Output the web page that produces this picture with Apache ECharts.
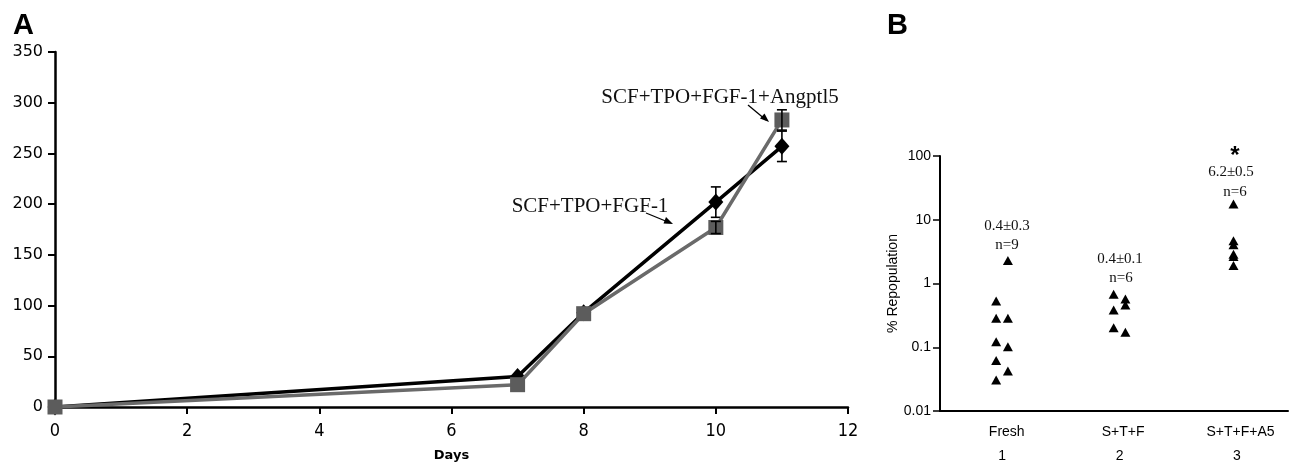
<!DOCTYPE html>
<html><head><meta charset="utf-8">
<script src="https://cdn.jsdelivr.net/npm/echarts@6/dist/echarts.min.js"></script>
<style>html,body{margin:0;padding:0;background:#fff}#c{width:1289px;height:465px}</style>
</head><body><div id="c"></div>
<script>
// ---- Panel A data ----
const days = [0, 7, 8, 10, 11];
const stfValues = [0, 30, 93, 202, 257];      // SCF+TPO+FGF-1
const stfErrors = [0, 0, 0, 15, 15];
const stfaValues = [0, 22, 92, 177, 283];     // SCF+TPO+FGF-1+Angptl5
const stfaErrors = [0, 0, 0, 6, 10];
const seriesNamesA = ['SCF+TPO+FGF-1', 'SCF+TPO+FGF-1+Angptl5'];

// ---- Panel B data ----
const groupNames = ['Fresh', 'S+T+F', 'S+T+F+A5'];
const groupNumbers = ['1', '2', '3'];
const freshLeft = [0.53, 0.285, 0.122, 0.062, 0.0307];
const freshRight = [2.3, 0.285, 0.102, 0.0425];
const stfLeft = [0.68, 0.385, 0.203];
const stfRight = [0.57, 0.46, 0.172];
const stfa5Col = [17.6, 4.67, 4.04, 2.88, 2.64, 1.91];
const groupMeans = ['0.4±0.3', '0.4±0.1', '6.2±0.5'];
const groupN = ['n=9', 'n=6', 'n=6'];

const chart = echarts.init(document.getElementById('c'), null, {renderer: 'canvas'});

const jitter = 0.05;
function pts(group, vals, off) { return vals.map(v => [group + off, v]); }

function errItem(color) {
  return function (params, api) {
    const x = api.value(0), y = api.value(1), e = api.value(2);
    if (!e) return null;
    const t = api.coord([x, y + e]), b = api.coord([x, y - e]);
    const st = {stroke: color, lineWidth: 1.6};
    return {type: 'group', children: [
      {type: 'line', shape: {x1: t[0], y1: t[1], x2: b[0], y2: b[1]}, style: st},
      {type: 'line', shape: {x1: t[0] - 5, y1: t[1], x2: t[0] + 5, y2: t[1]}, style: st},
      {type: 'line', shape: {x1: b[0] - 5, y1: b[1], x2: b[0] + 5, y2: b[1]}, style: st}
    ]};
  };
}

const serif = 'Liberation Serif, Times New Roman, serif';
const sans = 'Liberation Sans, Arial, sans-serif';
const blackTri = {color: '#000', opacity: 1};

const option = {
  backgroundColor: '#fff',
  animation: false,
  grid: [
    {left: 55, top: 52, width: 793, height: 355, outerBoundsMode: 'none', containLabel: false},
    {left: 940, top: 156, width: 348, height: 255, outerBoundsMode: 'none', containLabel: false}
  ],
  xAxis: [
    {gridIndex: 0, type: 'value', min: 0, max: 12, interval: 2,
     name: 'Days', nameLocation: 'middle', nameGap: 42,
     nameTextStyle: {fontFamily: 'DejaVu Sans', fontWeight: 'bold', fontSize: 13, color: '#000'},
     axisLine: {lineStyle: {color: '#000', width: 2.5}},
     axisTick: {show: true, length: 7, lineStyle: {color: '#000', width: 2}},
     axisLabel: {fontFamily: 'DejaVu Sans Condensed, DejaVu Sans', fontSize: 18, color: '#000', margin: 15},
     splitLine: {show: false}},
    {gridIndex: 1, type: 'value', position: 'bottom', min: 0.472, max: 3.434,
     axisLine: {lineStyle: {color: '#000', width: 2}},
     axisTick: {show: false},
     axisLabel: {customValues: [1.04, 2.03, 3.03], fontFamily: sans, fontSize: 14, color: '#000', margin: 14,
                 formatter: v => groupNames[Math.round(v) - 1]},
     splitLine: {show: false}},
    {gridIndex: 1, type: 'value', position: 'bottom', offset: 0, min: 0.472, max: 3.434,
     axisLine: {show: false}, axisTick: {show: false},
     axisLabel: {customValues: [1, 2, 3], fontFamily: sans, fontSize: 14, color: '#000', margin: 38,
                 formatter: v => groupNumbers[Math.round(v) - 1]},
     splitLine: {show: false}}
  ],
  yAxis: [
    {gridIndex: 0, type: 'value', min: 0, max: 350, interval: 50,
     axisLine: {show: true, lineStyle: {color: '#000', width: 2.5}},
     axisTick: {show: true, length: 7, lineStyle: {color: '#000', width: 2}},
     axisLabel: {fontFamily: 'DejaVu Sans', fontSize: 16, color: '#000', margin: 12},
     splitLine: {show: false}},
    {gridIndex: 1, type: 'log', logBase: 10, min: 0.01, max: 100,
     name: '% Repopulation', nameLocation: 'middle', nameRotate: 90, nameGap: 40,
     nameTextStyle: {fontFamily: sans, fontSize: 14, color: '#000'},
     axisLine: {show: true, lineStyle: {color: '#000', width: 2}},
     axisTick: {show: true, length: 7, lineStyle: {color: '#000', width: 1.5}},
     axisLabel: {fontFamily: sans, fontSize: 14, color: '#000', margin: 9,
                 formatter: v => String(+(+v).toPrecision(3))},
     minorTick: {show: false},
     splitLine: {show: false}}
  ],
  series: [
    {type: 'line', name: seriesNamesA[0], xAxisIndex: 0, yAxisIndex: 0,
     data: days.map((d, i) => [d, stfValues[i]]),
     symbol: 'diamond', symbolSize: [15, 17], showAllSymbol: true,
     lineStyle: {color: '#000', width: 3.5}, itemStyle: {color: '#000'}, z: 2},
    {type: 'custom', xAxisIndex: 0, yAxisIndex: 0, renderItem: errItem('#000'),
     data: days.map((d, i) => [d, stfValues[i], stfErrors[i]]), z: 3},
    {type: 'line', name: seriesNamesA[1], xAxisIndex: 0, yAxisIndex: 0,
     data: days.map((d, i) => [d, stfaValues[i]]),
     symbol: 'rect', symbolSize: 15, showAllSymbol: true,
     lineStyle: {color: '#6a6a6a', width: 3.5}, itemStyle: {color: '#5c5c5c'}, z: 4},
    {type: 'custom', xAxisIndex: 0, yAxisIndex: 0, renderItem: errItem('#000'),
     data: days.map((d, i) => [d, stfaValues[i], stfaErrors[i]]), z: 5},

    {type: 'scatter', xAxisIndex: 1, yAxisIndex: 1, symbol: 'triangle', symbolSize: [10, 9],
     itemStyle: blackTri, data: pts(1, freshLeft, -jitter)},
    {type: 'scatter', xAxisIndex: 1, yAxisIndex: 1, symbol: 'triangle', symbolSize: [10, 9],
     itemStyle: blackTri, data: pts(1, freshRight, jitter)},
    {type: 'scatter', xAxisIndex: 1, yAxisIndex: 1, symbol: 'triangle', symbolSize: [10, 9],
     itemStyle: blackTri, data: pts(2, stfLeft, -jitter)},
    {type: 'scatter', xAxisIndex: 1, yAxisIndex: 1, symbol: 'triangle', symbolSize: [10, 9],
     itemStyle: blackTri, data: pts(2, stfRight, jitter)},
    {type: 'scatter', xAxisIndex: 1, yAxisIndex: 1, symbol: 'triangle', symbolSize: [10, 9],
     itemStyle: blackTri, data: pts(3, stfa5Col, -0.03)}
  ],
  graphic: [
    {type: 'text', left: 13, top: 11, style: {text: 'A', font: 'bold 29px Liberation Sans, Arial', fill: '#000'}},
    {type: 'text', left: 887, top: 11, style: {text: 'B', font: 'bold 29px Liberation Sans, Arial', fill: '#000'}},
    {type: 'text', x: 720, y: 97, style: {text: seriesNamesA[1], font: '21px ' + serif, fill: '#111', align: 'center', verticalAlign: 'middle'}},
    {type: 'text', x: 590, y: 206, style: {text: seriesNamesA[0], font: '21px ' + serif, fill: '#111', align: 'center', verticalAlign: 'middle'}},
    {type: 'line', shape: {x1: 748, y1: 105, x2: 766, y2: 120}, style: {stroke: '#000', lineWidth: 1.3}},
    {type: 'polygon', shape: {points: [[769, 122], [760, 118.5], [764.5, 113.5]]}, style: {fill: '#000'}},
    {type: 'line', shape: {x1: 646, y1: 213, x2: 668, y2: 222}, style: {stroke: '#000', lineWidth: 1.3}},
    {type: 'polygon', shape: {points: [[673, 224], [663.5, 223.5], [666, 217]]}, style: {fill: '#000'}},

    {type: 'text', x: 1007, y: 226, style: {text: groupMeans[0], font: '15px ' + serif, fill: '#111', align: 'center', verticalAlign: 'middle'}},
    {type: 'text', x: 1007, y: 245, style: {text: groupN[0], font: '15px ' + serif, fill: '#111', align: 'center', verticalAlign: 'middle'}},
    {type: 'text', x: 1120, y: 259, style: {text: groupMeans[1], font: '15px ' + serif, fill: '#111', align: 'center', verticalAlign: 'middle'}},
    {type: 'text', x: 1121, y: 278, style: {text: groupN[1], font: '15px ' + serif, fill: '#111', align: 'center', verticalAlign: 'middle'}},
    {type: 'text', x: 1235, y: 156, style: {text: '*', font: 'bold 24px ' + sans, fill: '#000', align: 'center', verticalAlign: 'middle'}},
    {type: 'text', x: 1231, y: 172, style: {text: groupMeans[2], font: '15px ' + serif, fill: '#111', align: 'center', verticalAlign: 'middle'}},
    {type: 'text', x: 1235, y: 192, style: {text: groupN[2], font: '15px ' + serif, fill: '#111', align: 'center', verticalAlign: 'middle'}}
  ]
};
chart.setOption(option);
</script></body></html>
